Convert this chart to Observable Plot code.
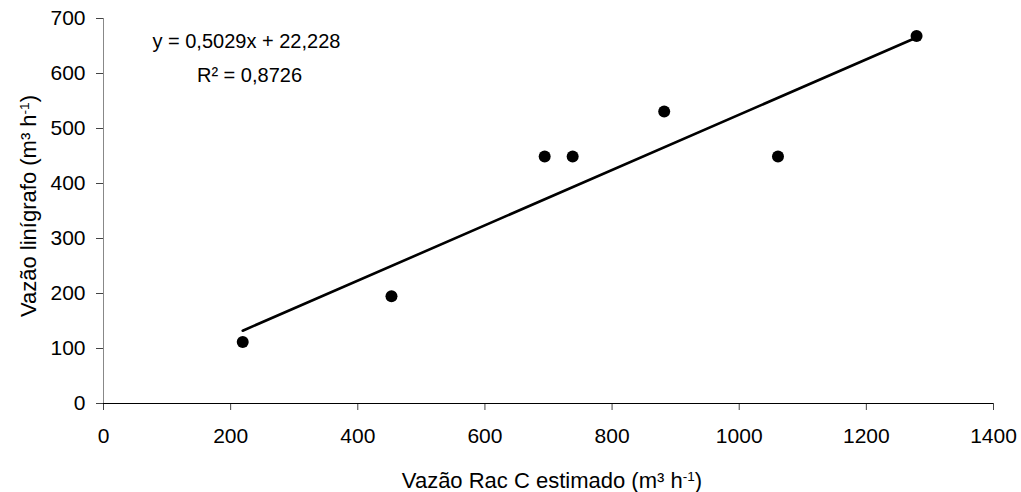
<!DOCTYPE html>
<html><head><meta charset="utf-8">
<script src="https://cdn.jsdelivr.net/npm/d3@7"></script>
<script src="https://cdn.jsdelivr.net/npm/@observablehq/plot@0.6"></script>
<style>
body{margin:0;background:#fff}
svg{font-family:"Liberation Sans",Arial,sans-serif}
</style>
</head><body><div id="chart"></div>
<script>
// Data
const racC = [219, 453, 694, 738, 882, 1061, 1279];
const linigrafo = [112, 195, 449, 449, 531, 449, 668];
const slope = 0.5029, intercept = 22.228;
const xTicks = [0, 200, 400, 600, 800, 1000, 1200, 1400];
const yTicks = [0, 100, 200, 300, 400, 500, 600, 700];
const eqLines = ["y = 0,5029x + 22,228", "R² = 0,8726"];
const eqX = [77, 147];
const eqY = [646, 584];

const points = racC.map((x, i) => ({x, y: linigrafo[i]}));
const fitEnds = [d3.min(racC), d3.max(racC)];
const fit = fitEnds.map(x => ({x, y: slope * x + intercept}));
const eq = eqLines.map((t, i) => ({t, x: eqX[i], y: eqY[i]}));

const W = 1021, H = 492;
const chart = Plot.plot({
  width: W, height: H,
  marginLeft: 103, marginRight: 28, marginTop: 18, marginBottom: 89,
  style: {fontSize: "21px", fontFamily: "'Liberation Sans', Arial, sans-serif", background: "#fff", color: "#000"},
  x: {domain: [0, 1400]},
  y: {domain: [0, 700]},
  marks: [
    Plot.axisX({ticks: xTicks, tickSize: 7, tickPadding: 18, label: null, stroke: "#444", fontSize: 21, tickFormat: d => String(d)}),
    Plot.axisY({ticks: yTicks, tickSize: 7, tickPadding: 11, label: null, stroke: "#444", fontSize: 21, tickFormat: d => String(d)}),
    Plot.ruleX([0], {stroke: "#888", strokeWidth: 1}),
    Plot.ruleY([0], {stroke: "#000", strokeWidth: 1}),
    Plot.line(fit, {x: "x", y: "y", stroke: "#000", strokeWidth: 2.6}),
    Plot.dot(points, {x: "x", y: "y", r: 6, fill: "#000", stroke: "none"}),
    Plot.text(eq, {x: "x", y: "y", text: "t", textAnchor: "start", lineAnchor: "bottom", fontSize: 20, fill: "#000"})
  ]
});
document.getElementById("chart").appendChild(chart);

// Axis titles with superscripts
const svg = d3.select(chart);
function addLabel(g, parts) {
  parts.forEach(p => {
    const ts = g.append("tspan").text(p.t);
    if (p.sup) ts.attr("baseline-shift", "super").attr("font-size", "0.62em");
  });
}
const xl = svg.append("text")
  .attr("x", 552).attr("y", 488)
  .attr("text-anchor", "middle").attr("font-size", 22).attr("fill", "#000");
addLabel(xl, [{t: "Vazão Rac C estimado (m³ h"}, {t: "-1", sup: true}, {t: ")"}]);
const yl = svg.append("text")
  .attr("transform", "translate(36,206) rotate(-90)")
  .attr("text-anchor", "middle").attr("font-size", 22).attr("fill", "#000");
addLabel(yl, [{t: "Vazão linígrafo (m³ h"}, {t: "-1", sup: true}, {t: ")"}]);
</script>
</body></html>
